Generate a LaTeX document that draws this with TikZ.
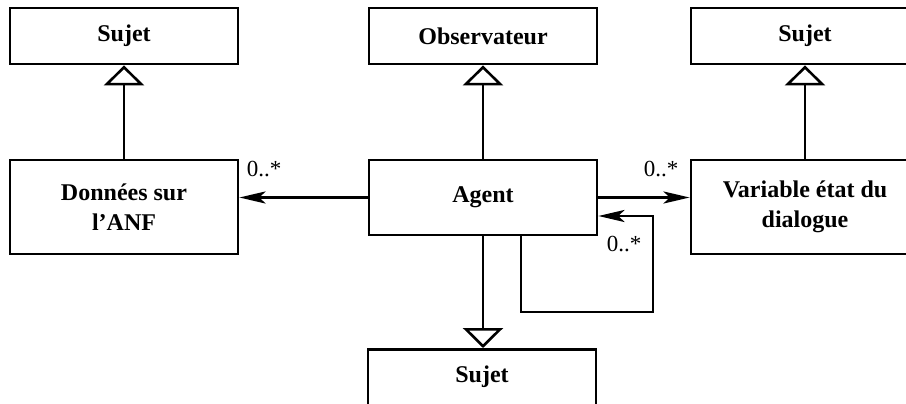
\documentclass[tikz,border=0pt]{standalone}
\usepackage{fontspec}
\setmainfont{Liberation Serif}
\usetikzlibrary{arrows.meta}
\begin{document}
\begin{tikzpicture}[x=1pt,y=-1pt,
  box/.style={draw, line width=2.8pt, minimum width=228pt, inner sep=0pt, align=center,
    font=\fontsize{24}{30}\selectfont\bfseries},
  gen/.style={line width=2.8pt, -{Triangle[length=20pt,width=40pt,fill=white,line width=2.6pt]}},
  assoc/.style={line width=2.8pt, -{Stealth[length=26pt,width=12pt,inset=6pt]}},
  lbl/.style={font=\fontsize{23}{28}\selectfont, inner sep=0pt}]
\useasboundingbox (0,0) rectangle (906,404);
\clip (0,0) rectangle (906,404);
\node[box, minimum height=56pt] (s1) at (124,36) {Sujet};
\node[box, minimum height=56pt] (obs) at (483,36) {Observateur};
\node[box, minimum height=56pt] (s3) at (805,36) {Sujet};
\node[box, minimum height=94pt] (don) at (124,207) {Données sur\\l’ANF};
\node[box, minimum height=75pt] (agent) at (483,197.5) {Agent};
\node[box, minimum height=94pt] (var) at (805,207) {Variable état du\\dialogue};
\node[box, minimum height=100pt, anchor=north] (s4) at (482,348) {};
\node[font=\fontsize{24}{30}\selectfont\bfseries, inner sep=0pt] (s4t) at (482,377) {Sujet};
\coordinate (lp1) at (653,312);
\draw[gen] (don.north) -- (s1.south);
\draw[gen] (agent.north) -- (obs.south);
\draw[gen] (var.north) -- (s3.south);
\draw[gen] (agent.south) -- (agent.south |- s4.north);
\draw[assoc] (agent.west) -- (agent.west -| don.east);
\draw[assoc] (agent.east) -- (agent.east -| var.west);
\draw[assoc] ([xshift=38pt]agent.south) |- (lp1) |- ([yshift=-18.5pt]agent.east);
\node[lbl] (l1) at (264,169) {0..*};
\node[lbl] (l2) at (661,169) {0..*};
\node[lbl] (l3) at (624,244) {0..*};
\end{tikzpicture}
\end{document}
